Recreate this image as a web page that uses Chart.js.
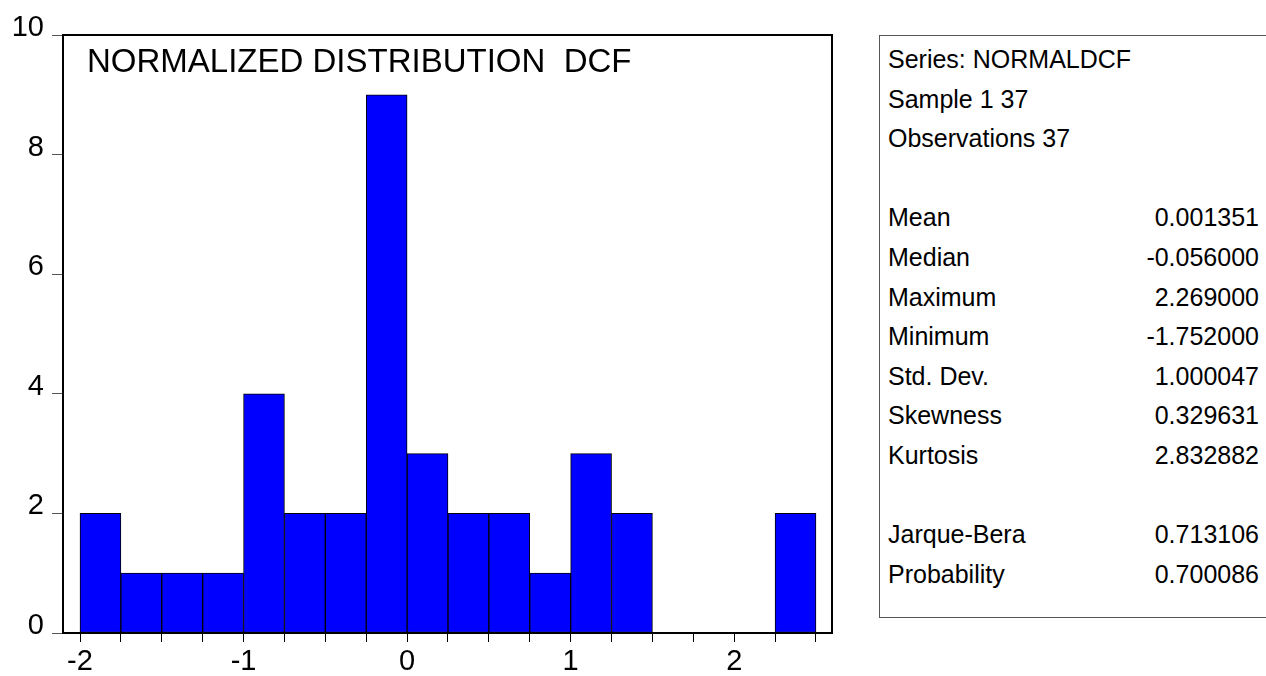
<!DOCTYPE html>
<html>
<head>
<meta charset="utf-8">
<script src="https://cdn.jsdelivr.net/npm/chart.js@4"></script>
<style>
  html, body { margin: 0; padding: 0; background: #fff; }
  body { width: 1266px; height: 676px; position: relative; overflow: hidden;
         font-family: "Liberation Sans", Arial, sans-serif; color: #000; }
  #wrap { position: absolute; left: 0; top: 0; width: 860px; height: 676px; }
  #title { position: absolute; left: 87px; top: 42px; font-size: 33px; line-height: 38px; white-space: pre; }
  #stats { position: absolute; left: 879px; top: 35px; width: 400px; height: 583px;
           border: 1px solid #555; box-sizing: border-box; font-size: 25px; }
  .row { position: absolute; left: 8px; height: 40px; line-height: 40px; white-space: nowrap; }
  .val { position: absolute; right: 0; text-align: right; }
</style>
</head>
<body>
<div id="wrap"><canvas id="c"></canvas></div>
<div id="title">NORMALIZED DISTRIBUTION  DCF</div>
<div id="stats"></div>
<script>
// histogram bins (centres, width 0.25) and counts
const binCenters = [-1.875, -1.625, -1.375, -1.125, -0.875, -0.625, -0.375, -0.125,
                    0.125, 0.375, 0.625, 0.875, 1.125, 1.375, 1.625, 1.875, 2.125, 2.375];
const counts = [2, 1, 1, 1, 4, 2, 2, 9, 3, 2, 2, 1, 3, 2, 0, 0, 0, 2];
const yTicks = [0, 2, 4, 6, 8, 10];
const xTickLabels = ['-2', '-1', '0', '1', '2'];

// summary box
const headerLines = ['Series: NORMALDCF', 'Sample 1 37', 'Observations 37'];
const statLabels = ['Mean', 'Median', 'Maximum', 'Minimum', 'Std. Dev.', 'Skewness', 'Kurtosis'];
const statValues = ['0.001351', '-0.056000', '2.269000', '-1.752000', '1.000047', '0.329631', '2.832882'];
const testLabels = ['Jarque-Bera', 'Probability'];
const testValues = ['0.713106', '0.700086'];

const FONT = '"Liberation Sans", Arial, sans-serif';

// build the stats panel
(function () {
  const box = document.getElementById('stats');
  const step = 39.6;
  let line = 0;
  function addRow(label, value) {
    const r = document.createElement('div');
    r.className = 'row';
    r.style.top = (3 + line * step) + 'px';
    r.style.width = (1258 - 879 - 8) + 'px';
    r.textContent = label;
    if (value !== undefined) {
      const v = document.createElement('span');
      v.className = 'val';
      v.textContent = value;
      r.appendChild(v);
    }
    box.appendChild(r);
    line++;
  }
  headerLines.forEach(h => addRow(h));
  line++;
  statLabels.forEach((l, i) => addRow(l, statValues[i]));
  line++;
  testLabels.forEach((l, i) => addRow(l, testValues[i]));
})();

const framePlugin = {
  id: 'frame',
  afterDatasetsDraw(chart) {
    const a = chart.chartArea, ctx = chart.ctx;
    ctx.save();
    ctx.strokeStyle = '#000';
    ctx.lineWidth = 2;
    ctx.strokeRect(a.left, a.top, a.right - a.left, a.bottom - a.top);
    ctx.restore();
  }
};

new Chart(document.getElementById('c'), {
  type: 'bar',
  data: {
    datasets: [{
      data: binCenters.map((x, i) => ({ x: x, y: counts[i] })),
      backgroundColor: '#0000ff',
      borderColor: '#000',
      borderWidth: 1,
      borderSkipped: false,
      barPercentage: 1,
      categoryPercentage: 1
    }]
  },
  plugins: [framePlugin],
  options: {
    responsive: true,
    maintainAspectRatio: false,
    animation: false,
    layout: { padding: { top: 35, right: 28, left: 0, bottom: 0 } },
    plugins: { legend: { display: false }, tooltip: { enabled: false } },
    scales: {
      x: {
        type: 'linear',
        offset: false,
        min: -2.104,
        max: 2.598,
        afterFit(s) { s.height = 43; },
        border: { display: false },
        grid: { offset: false, drawOnChartArea: false, drawTicks: true, tickLength: 9, color: '#000', lineWidth: 1 },
        ticks: {
          stepSize: 0.25,
          includeBounds: false,
          autoSkip: false,
          maxRotation: 0,
          padding: 3,
          color: '#000',
          font: { family: FONT, size: 29 },
          callback(v) {
            const lbl = String(v);
            return xTickLabels.includes(lbl) ? lbl : '';
          }
        }
      },
      y: {
        min: yTicks[0],
        max: yTicks[yTicks.length - 1],
        afterFit(s) { s.width = 63; },
        afterBuildTicks(s) { s.ticks = yTicks.map(v => ({ value: v })); },
        border: { display: false },
        grid: { drawOnChartArea: false, drawTicks: true, tickLength: 11, color: '#555', lineWidth: 1 },
        ticks: {
          padding: 8,
          labelOffset: -7,
          color: '#000',
          font: { family: FONT, size: 29 }
        }
      }
    }
  }
});
</script>
</body>
</html>
